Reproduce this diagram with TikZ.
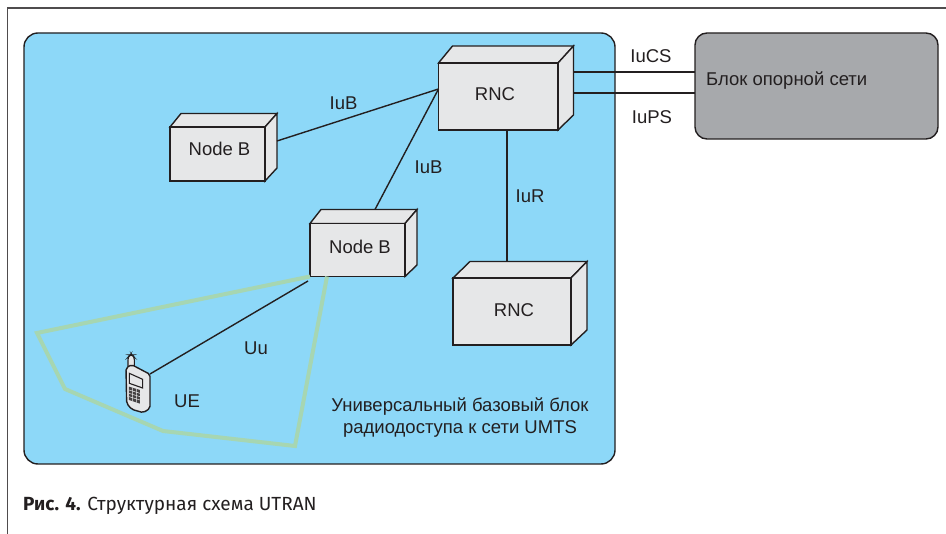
\documentclass[tikz,border=0pt]{standalone}
\usepackage{fontspec}
\setmainfont{Liberation Sans}
\newfontfamily\capfont{Fira Sans}
\definecolor{lin}{HTML}{231F20}
\definecolor{sky}{HTML}{8DD8F8}
\definecolor{core}{HTML}{A7A9AC}
\definecolor{boxc}{HTML}{E6E7E8}
\definecolor{grn}{HTML}{A6D6B2}
\tikzset{
  ln/.style={draw=lin,line width=1.4pt,line join=miter},
  front/.style={ln,fill=boxc,rectangle,inner sep=0pt,outer sep=0pt,text=lin,font=\fontsize{19}{22}\selectfont,anchor=north west},
  side/.style={ln,fill=boxc},
  lbl/.style={text=lin,font=\fontsize{18.5}{22}\selectfont,inner sep=0pt},
}
\newcommand{\boxthreed}[9]{%
  % name, x1,y1,x2,y2, bx1, bx2, by, bry
  \draw[side] (#2,#3) -- (#6,#8) -- (#7,#8) -- (#4,#3) -- cycle;
  \draw[side] (#4,#3) -- (#7,#8) -- (#7,#9) -- (#4,#5) -- cycle;
  \node[front,minimum width={(#4-#2)*1pt},minimum height={(#5-#3)*1pt}] (#1) at (#2,#3) {};
}
\begin{document}
\begin{tikzpicture}[x=1pt,y=-1pt]
\useasboundingbox (0,0) rectangle (946,534);
\fill[white] (0,0) rectangle (946,534);
% frame
\coordinate (ftr) at (946,8);
\coordinate (ftl) at (7.5,8);
\coordinate (fbl) at (7.5,534);
\draw[draw=lin!80!white,line width=1.3pt] (ftr) -- (ftl) -- (fbl);
% panels
\node[ln,fill=sky,rectangle,rounded corners=14pt,minimum width=591pt,minimum height=431pt,anchor=north west,inner sep=0pt,outer sep=0pt] (utran) at (24,33) {};
\node[ln,fill=core,rectangle,rounded corners=12pt,minimum width=243pt,minimum height=106pt,anchor=north west,inner sep=0pt,outer sep=0pt] (cn) at (695,33) {};
\node[lbl,anchor=west] (cnt) at (706,81) {Блок опорной сети};
% boxes
\boxthreed{rncA}{438.5}{63}{558}{130}{452.5}{573.5}{46}{115}
\boxthreed{nodeA}{170}{127}{265}{181}{181}{277}{113.5}{168}
\boxthreed{nodeB}{310}{223.5}{405}{276.5}{321}{417}{209.5}{265}
\boxthreed{rncB}{453}{278}{571}{345}{470}{587}{261.5}{330}
\node[lbl] (trncA) at (495,94) {RNC};
\node[lbl] (tnodeA) at (219.5,149) {Node B};
\node[lbl] (tnodeB) at (360,247) {Node B};
\node[lbl] (trncB) at (514,310) {RNC};
% named connector ends
\coordinate (pA) at (rncA.west |- 0,89);
\coordinate (nAe) at (nodeA.east |- 0,141);
\coordinate (nAr) at (277,141);
\coordinate (nBt) at (375,209.5);
\coordinate (rAb) at (507,130);
\coordinate (rBt) at (507,261.5);
\coordinate (rAcs) at (573.5,72);
\coordinate (rAps) at (573.5,93);
\coordinate (cncs) at (695,72);
\coordinate (cnps) at (695,93);
\coordinate (nBu) at (308,281);
\coordinate (ph) at (150,374);
\draw[ln] (nAr) -- (pA);
\draw[ln] (nBt) -- (pA);
\draw[ln] (rAb) -- (rBt);
\draw[ln] (rAcs) -- (cncs);
\draw[ln] (rAps) -- (cnps);
% green sector
\coordinate (g0) at (310,276.5);
\coordinate (g5) at (327,276.5);
\draw[grn,line width=4pt,line join=miter] (g0) -- (37,333) -- (65,389) -- (163,431) -- (295,446) -- (g5);
\draw[ln] (nBu) -- (ph);
% phone
\begin{scope}[shift={(100,340)},x=0.3333pt,y=-0.3333pt]
  \draw[lin,line width=1.1pt,fill=boxc,rounded corners=2.5pt] (84,78) -- (84,52) -- (90,45) -- (97,45) -- (103,52) -- (103,82);
  \draw[lin,line width=1.4pt,fill=boxc,rounded corners=2pt] (78,84) -- (95,74) -- (150,103) -- (150,205) -- (130,218) -- (95,208) -- (80,190) -- cycle;
  \draw[lin,line width=1.1pt,fill=boxc] (88,100) -- (128,118) -- (128,144) -- (88,130) -- cycle;
  \fill[lin!85!white] (87,140) -- (120,150) -- (120,191) -- (87,180) -- cycle;
  \draw[boxc,line width=0.5pt] (98,143) -- (98,184) (109,146) -- (109,188)
     (87,150) -- (120,160) (87,160) -- (120,170) (87,170) -- (120,180);
\end{scope}
% labels
\node[lbl] (iub1) at (343.5,103) {IuB};
\node[lbl] (iub2) at (428.5,167) {IuB};
\node[lbl] (iur) at (530,196) {IuR};
\node[lbl] (iucs) at (651,56) {IuCS};
\node[lbl] (iups) at (652,117) {IuPS};
\node[lbl] (uu) at (256,348) {Uu};
\node[lbl] (ue) at (187,401) {UE};
\node[lbl,align=center] (cap1) at (460,418) {\fontsize{18.5}{22}\selectfont Универсальный базовый блок\\[0pt]\fontsize{18.5}{22}\selectfont радиодоступа к сети UMTS};
\node[anchor=west,inner sep=0pt,text=lin,font=\capfont\fontsize{19}{22}\selectfont] (fig) at (23,506) {\textbf{Рис. 4.} Структурная схема UTRAN};
\end{tikzpicture}
\end{document}
